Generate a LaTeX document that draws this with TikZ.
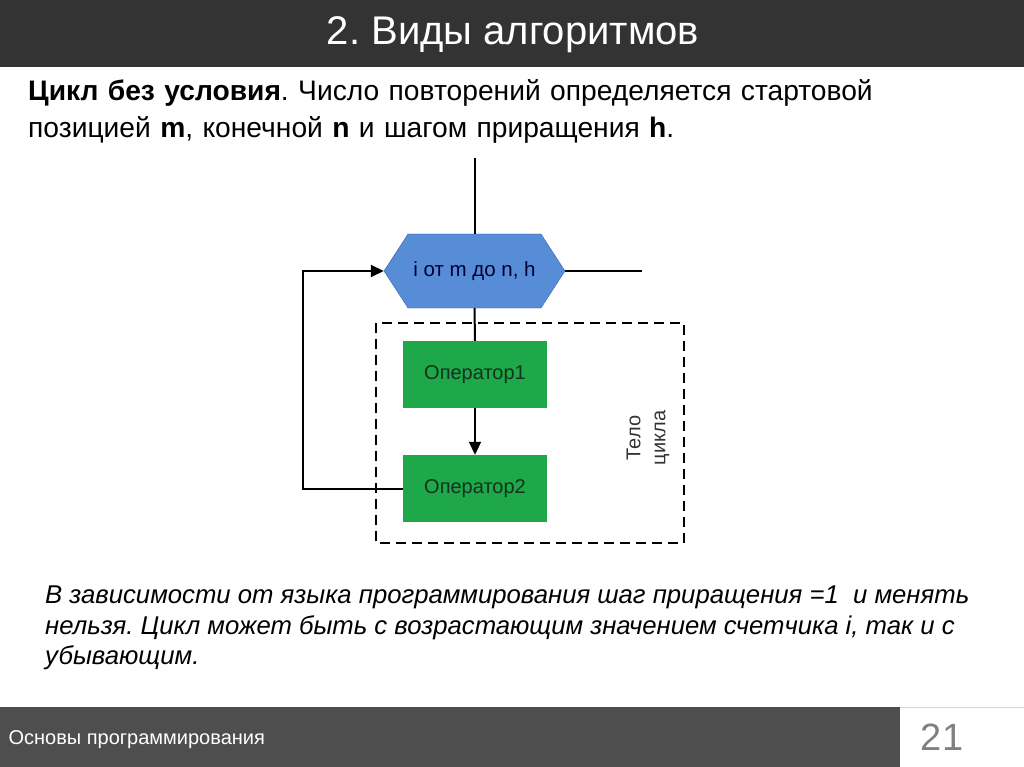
\documentclass[tikz,border=0pt]{standalone}
\usepackage{fontspec}
\setmainfont{Liberation Sans}
\usetikzlibrary{shapes.symbols,arrows.meta,positioning}
\definecolor{barcolor}{RGB}{51,51,51}
\definecolor{footcolor}{RGB}{78,78,78}
\definecolor{hexcolor}{RGB}{86,141,214}
\definecolor{hexedge}{RGB}{60,100,170}
\definecolor{opcolor}{RGB}{30,168,74}
\definecolor{optext}{RGB}{20,50,30}
\frenchspacing
\begin{document}
\begin{tikzpicture}[
    x=1pt, y=-1pt,
    loophex/.style={signal, signal to=east and west, signal pointer angle=114, draw=hexedge, fill=hexcolor, minimum width=181pt, minimum height=74pt, inner sep=0pt, font=\fontsize{20.5}{24}\selectfont, text=black!80!blue},
    opbox/.style={rectangle, fill=opcolor, minimum width=144pt, minimum height=67pt, inner sep=0pt, font=\fontsize{20}{24}\selectfont, text=optext},
    line/.style={line width=2pt, black},
    arrow/.style={line width=2pt, black, -{Triangle[length=13pt, width=12pt]}}
]
\useasboundingbox (0,0) rectangle (1024,767);

% Title bar
\fill[barcolor] (0,0) rectangle (1024,67);
\node[text=white, font=\fontsize{40}{46}\selectfont] (title) at (513,35) {2. Виды алгоритмов};

% Intro text
\node[anchor=north west, align=left, text width=950pt, font=\fontsize{28.2}{37}\selectfont, inner sep=0pt] (intro) at (28,79)
  {\textbf{Цикл без условия}. Число повторений определяется стартовой\\позицией \textbf{m}, конечной \textbf{n} и шагом приращения \textbf{h}.};

% Loop header and body
\node[loophex] (head) at (474.5,271) {i от m до n, h};
\node[opbox] (op1) at (475,374.5) {Оператор1};
\node[opbox] (op2) at (475,488.5) {Оператор2};
\coordinate (entry) at (474.5,158);
\coordinate (exit) at (642,271);
\coordinate (back) at (303,488.5);

% Body frame
\draw[line width=2.6pt, dash pattern=on 10pt off 6pt] (376,323) rectangle (684,543);
\node[rotate=90, align=center, font=\fontsize{20}{25}\selectfont, text=black!80] (body) at (648,438) {Тело\\цикла};

% Connections
\draw[line] (entry) -- (head.north);
\draw[line] (head.east) -- (exit);
\draw[line] (head.south) -- (op1.north);
\draw[arrow] (op1) -- (op2);
\draw[arrow] (op2.west) -- (back) |- (head.west);

% Note
\node[anchor=north west, align=left, font=\fontsize{25.7}{30.5}\selectfont\itshape, inner sep=0pt] (note) at (45,586)
  {В зависимости от языка программирования шаг приращения =1\ \ и менять\\нельзя. Цикл может быть с возрастающим значением счетчика i, так и с\\убывающим.};

% Footer
\fill[footcolor] (0,707) rectangle (900,767);
\draw[black!15] (900,707) -- (1024,707);
\node[anchor=west, text=white, font=\fontsize{20}{24}\selectfont] (foot) at (5,740) {Основы программирования};
\node[text=black!50, font=\fontsize{38}{44}\selectfont] (page) at (942,737) {21};
\end{tikzpicture}
\end{document}
